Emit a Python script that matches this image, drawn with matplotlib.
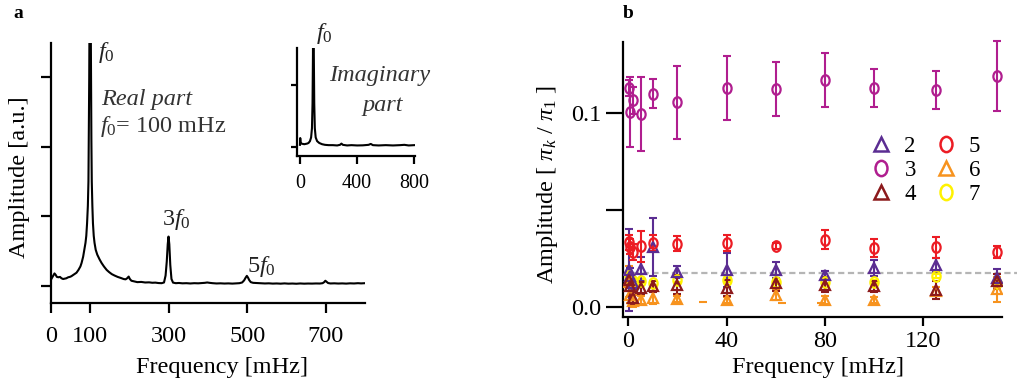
import matplotlib
matplotlib.use("Agg")
import matplotlib.pyplot as plt
from matplotlib.path import Path
from matplotlib.transforms import Affine2D
from matplotlib.lines import Line2D

plt.rcParams['font.family'] = ['Liberation Serif', 'DejaVu Serif']
plt.rcParams['mathtext.fontset'] = 'custom'
plt.rcParams['mathtext.rm'] = 'Liberation Serif'
plt.rcParams['mathtext.it'] = 'Liberation Serif:italic'
plt.rcParams['mathtext.bf'] = 'Liberation Serif:bold'

# ---------------- panel a: real-part spectrum ----------------
spec_f = [1, 3, 6, 9, 12, 15, 19, 23, 27, 31, 35, 39, 44, 48, 52, 56, 60, 65, 70, 75,
          78, 82, 85, 88, 90, 92, 94, 95.5, 96.3, 97.5, 98.5, 99.5, 100.5, 101, 102, 103,
          104, 105.5, 107, 109, 111, 114, 118, 124, 129, 135, 142, 148, 155, 162, 170,
          178, 185, 190, 194, 198, 201, 205, 212, 220, 230, 240, 250, 258, 266, 274, 282,
          288, 292, 295, 297.5, 299.5, 301.5, 304, 307, 311, 318, 326, 335, 345, 355, 365,
          375, 385, 392, 398, 404, 412, 422, 432, 442, 452, 462, 472, 480, 487, 492, 496,
          499, 502, 505, 509, 515, 525, 535, 545, 555, 565, 575, 585, 595, 605, 615, 625,
          635, 645, 655, 665, 675, 685, 692, 696, 699, 702, 706, 712, 722, 732, 742, 752,
          762, 772, 782, 790, 800]
spec_amp = [0.10, 0.12, 0.15, 0.18, 0.16, 0.13, 0.125, 0.13, 0.11, 0.10, 0.105, 0.11,
            0.125, 0.13, 0.14, 0.155, 0.17, 0.19, 0.23, 0.28, 0.33, 0.42, 0.52, 0.62,
            0.72, 0.9, 1.15, 1.5, 2.1, 3.0, 4.2, 5.0, 5.0, 4.2, 3.0, 2.1, 1.5, 1.15, 0.9,
            0.72, 0.62, 0.52, 0.45, 0.38, 0.33, 0.28, 0.23, 0.20, 0.17, 0.15, 0.13, 0.115,
            0.10, 0.095, 0.11, 0.135, 0.10, 0.075, 0.065, 0.055, 0.058, 0.05, 0.052, 0.046,
            0.048, 0.042, 0.04, 0.05, 0.15, 0.35, 0.6, 0.71, 0.6, 0.3, 0.1, 0.048, 0.04,
            0.043, 0.038, 0.04, 0.036, 0.04, 0.038, 0.042, 0.045, 0.05, 0.045, 0.04, 0.036,
            0.038, 0.035, 0.037, 0.034, 0.038, 0.04, 0.05, 0.08, 0.12, 0.145, 0.12, 0.085,
            0.055, 0.045, 0.042, 0.04, 0.036, 0.038, 0.034, 0.036, 0.033, 0.037, 0.033,
            0.035, 0.032, 0.036, 0.033, 0.035, 0.034, 0.036, 0.035, 0.04, 0.055, 0.075,
            0.06, 0.042, 0.036, 0.038, 0.035, 0.037, 0.034, 0.038, 0.036, 0.04, 0.037, 0.04]

# inset: imaginary-part spectrum
imag_f = [0, 2, 5, 10, 20, 30, 40, 50, 60, 70, 78, 84, 88, 91, 93, 95, 97, 100, 104,
          110, 120, 135, 155, 175, 200, 230, 260, 280, 290, 300, 330, 360, 400, 440,
          480, 495, 510, 550, 600, 650, 700, 730, 760, 800]
imag_amp = [0.03, 0.14, 0.06, 0.05, 0.045, 0.04, 0.045, 0.05, 0.06, 0.09, 0.15, 0.3,
            0.7, 1.5, 3.0, 3.0, 1.5, 0.7, 0.3, 0.15, 0.09, 0.06, 0.04, 0.03, 0.025, 0.025,
            0.02, 0.03, 0.05, 0.03, 0.02, 0.025, 0.02, 0.022, 0.03, 0.045, 0.025, 0.02,
            0.025, 0.02, 0.025, 0.03, 0.02, 0.025]

# ---------------- panel b: harmonic amplitudes ----------------
freq_b = [0.3, 0.7, 2, 5, 10, 20, 40, 60, 80, 100, 125, 150]
amp_k2 = [0.019, 0.016, 0.012, 0.0195, 0.031, 0.018, 0.019, 0.019, 0.0165, 0.020, 0.0215, 0.0148]
err_k2 = [0.021, 0.004, 0.003, 0.006, 0.015, 0.003, 0.009, 0.004, 0.002, 0.0043, 0.0035, 0.0045]
amp_k3 = [0.1131, 0.1007, 0.1067, 0.0996, 0.1101, 0.1056, 0.1131, 0.1126, 0.1170, 0.1131, 0.1119, 0.1194]
err_k3 = [0.004, 0.018, 0.007, 0.019, 0.0074, 0.019, 0.0166, 0.014, 0.014, 0.010, 0.0097, 0.018]
amp_k4 = [0.014, 0.0105, 0.0045, 0.0097, 0.0105, 0.0114, 0.0097, 0.0122, 0.0114, 0.0105, 0.0088, 0.0131]
err_k4 = [0.004, 0.005, 0.003, 0.003, 0.003, 0.005, 0.004, 0.004, 0.004, 0.003, 0.0047, 0.004]
amp_k5 = [0.0332, 0.031, 0.0283, 0.0312, 0.0329, 0.0326, 0.0329, 0.0312, 0.0346, 0.0304, 0.0307, 0.0283]
err_k5 = [0.004, 0.004, 0.004, 0.008, 0.004, 0.004, 0.004, 0.0015, 0.005, 0.0045, 0.0055, 0.003]
amp_k6 = [0.013, 0.006, 0.003, 0.0036, 0.0045, 0.004, 0.0036, 0.0062, 0.0036, 0.0036, 0.008, 0.009]
err_k6 = [0.008, 0.004, 0.003, 0.002, 0.003, 0.0015, 0.0015, 0.0025, 0.002, 0.0015, 0.002, 0.0065]
amp_k7 = [0.016, 0.015, 0.0135, 0.0131, 0.0122, 0.014, 0.0136, 0.0125, 0.013, 0.013, 0.0157, 0.0122]
err_k7 = [0.001, 0.001, 0.001, 0.001, 0.001, 0.001, 0.001, 0.001, 0.001, 0.001, 0.001, 0.001]
stray_f = [30.5, 62.5, 78.5]
stray_amp = [0.0022, 0.0017, 0.0018]
noise_level = 0.0174

harmonics = ['2', '3', '4', '5', '6', '7']
colors = {'2': '#5b2d92', '3': '#b01e8f', '4': '#8c1a1c',
          '5': '#ec1c24', '6': '#f7931e', '7': '#fff200'}

xticks_a = [0, 100, 300, 500, 700]
xticks_inset = [0, 400, 800]
xticks_b = [0, 40, 80, 120]
yticks_b = [0.0, 0.05, 0.1]
ylabels_b = ['0.0', '', '0.1']

FS = 17.5
LW = 1.6

fig = plt.figure(figsize=(10.17, 3.87), dpi=100)


def style_axes(ax):
    for s in ('top', 'right'):
        ax.spines[s].set_visible(False)
    for s in ('left', 'bottom'):
        ax.spines[s].set_linewidth(LW)


# ---- panel a
ax_a = fig.add_axes([0.0501, 0.2163, 0.3088, 0.6734])
style_axes(ax_a)
ax_a.plot(spec_f, spec_amp, color='black', lw=1.5, solid_joinstyle='round')
ax_a.set_xlim(0, 800)
ax_a.set_ylim(-0.249, 3.496)
ax_a.set_xticks(xticks_a)
ax_a.set_xticklabels([str(t) for t in xticks_a])
ax_a.set_yticks([0, 1, 2, 3])
ax_a.set_yticklabels([])
ax_a.tick_params(axis='x', direction='out', length=7, width=LW, labelsize=FS, pad=9)
ax_a.tick_params(axis='y', direction='out', length=7, width=LW)

f0 = r'$\mathit{f}_{\mathit{0}}$'
ax_a.text(120, 3.36, f0, fontsize=FS, ha='left', va='center', color='#222222')
ax_a.text(128, 2.68, 'Real part', fontsize=FS, style='italic', ha='left', va='center', color='#333333')
ax_a.text(124, 2.29, f0 + '= 100 mHz', fontsize=FS, ha='left', va='center', color='#333333')
ax_a.text(283, 0.95, r'$3\mathit{f}_{\mathit{0}}$', fontsize=FS, ha='left', va='center', color='#222222')
ax_a.text(500, 0.28, r'$5\mathit{f}_{\mathit{0}}$', fontsize=FS, ha='left', va='center', color='#222222')

# ---- inset
ax_i = fig.add_axes([0.2917, 0.5977, 0.1163, 0.2775])
style_axes(ax_i)
ax_i.patch.set_alpha(0)
ax_i.plot(imag_f, imag_amp, color='black', lw=1.5)
ax_i.set_xlim(-23, 804)
ax_i.set_ylim(-0.146, 1.595)
ax_i.set_xticks(xticks_inset)
ax_i.set_xticklabels([str(t) for t in xticks_inset])
ax_i.set_yticks([0, 1])
ax_i.set_yticklabels([])
ax_i.tick_params(axis='x', direction='out', length=6, width=LW, labelsize=14.5, pad=7)
ax_i.tick_params(axis='y', direction='out', length=4, width=LW)
ax_i.text(110, 1.84, f0, fontsize=FS, ha='left', va='center', color='#222222', clip_on=False)
ax_i.text(560, 1.16, 'Imaginary', fontsize=FS, style='italic', ha='center', va='center', color='#333333')
ax_i.text(580, 0.66, 'part', fontsize=FS, style='italic', ha='center', va='center', color='#333333')

# ---- panel b
ax_b = fig.add_axes([0.6129, 0.1796, 0.3721, 0.7127])
style_axes(ax_b)
ax_b.set_xlim(-2.03, 151.9)
ax_b.set_ylim(-0.0056, 0.137)

circ = Path.unit_circle()
oval = Path(Affine2D().scale(0.78, 1.0).transform(circ.vertices), circ.codes)
markers = {'2': '^', '3': oval, '4': '^', '5': oval, '6': '^', '7': oval}


def msize(m, scale=1.0):
    return (6.8 if m == '^' else 7.6) * scale


series = {'2': (amp_k2, err_k2), '3': (amp_k3, err_k3), '4': (amp_k4, err_k4),
          '5': (amp_k5, err_k5), '6': (amp_k6, err_k6), '7': (amp_k7, err_k7)}

ax_b.axhline(noise_level, xmin=0, xmax=1.04, clip_on=False, color='#b5b5b5',
             lw=1.6, ls=(0, (2.8, 1.6)), zorder=1)

for k in ['7', '6', '2', '4', '5', '3']:
    amp, err = series[k]
    c = colors[k]
    eb = ax_b.errorbar(freq_b, amp, yerr=err, fmt='none', ecolor=c, elinewidth=1.5,
                       capsize=3, capthick=1.5, zorder=2)
    for art in eb.lines[1] + eb.lines[2]:
        art.set_clip_on(False)
    m = markers[k]
    ax_b.plot(freq_b, amp, ls='none', marker=m, ms=msize(m), mfc='none', mec=c, mew=1.6, zorder=3)

ax_b.plot(stray_f, stray_amp, ls='none', marker='_', ms=6, mew=1.5, color=colors['6'], zorder=2)

ax_b.set_xticks(xticks_b)
ax_b.set_xticklabels([str(t) for t in xticks_b])
ax_b.set_yticks(yticks_b)
ax_b.set_yticklabels(ylabels_b)
ax_b.tick_params(axis='x', direction='out', length=6.5, width=LW, labelsize=FS, pad=3)
ax_b.tick_params(axis='y', direction='out', length=12, width=LW, labelsize=FS, pad=4)

handles = [Line2D([], [], ls='none', marker=markers[k], ms=msize(markers[k], 1.45),
                  mfc='none', mec=colors[k], mew=1.8) for k in harmonics]
ax_b.legend(handles, harmonics, ncol=2, frameon=False, fontsize=16.5,
            handlelength=1.0, handletextpad=0.5, columnspacing=0.8,
            labelspacing=0.15, borderpad=0.0, loc='center',
            bbox_to_anchor=(925 / 1017, 1 - 170.5 / 387), bbox_transform=fig.transFigure)

# ---- axis titles and panel letters
fig.text(20 / 1017, 1 - 176.7 / 387, 'Amplitude [a.u.]', rotation=90, fontsize=FS,
         ha='center', va='center')
fig.text(222.5 / 1017, 1 - 368 / 387, 'Frequency [mHz]', fontsize=FS, ha='center', va='center')
fig.text(548 / 1017, 1 - 185 / 387, r'Amplitude [ $\pi_{k}$ / $\pi_{1}$ ]', rotation=90,
         fontsize=FS, ha='center', va='center')
fig.text(817.5 / 1017, 1 - 368 / 387, 'Frequency [mHz]', fontsize=FS, ha='center', va='center')
fig.text(18 / 1017, 1 - 13 / 387, 'a', fontsize=14, fontweight='bold', ha='center', va='center')
fig.text(628 / 1017, 1 - 13 / 387, 'b', fontsize=14, fontweight='bold', ha='center', va='center')

fig.savefig('out.png', dpi=100)
